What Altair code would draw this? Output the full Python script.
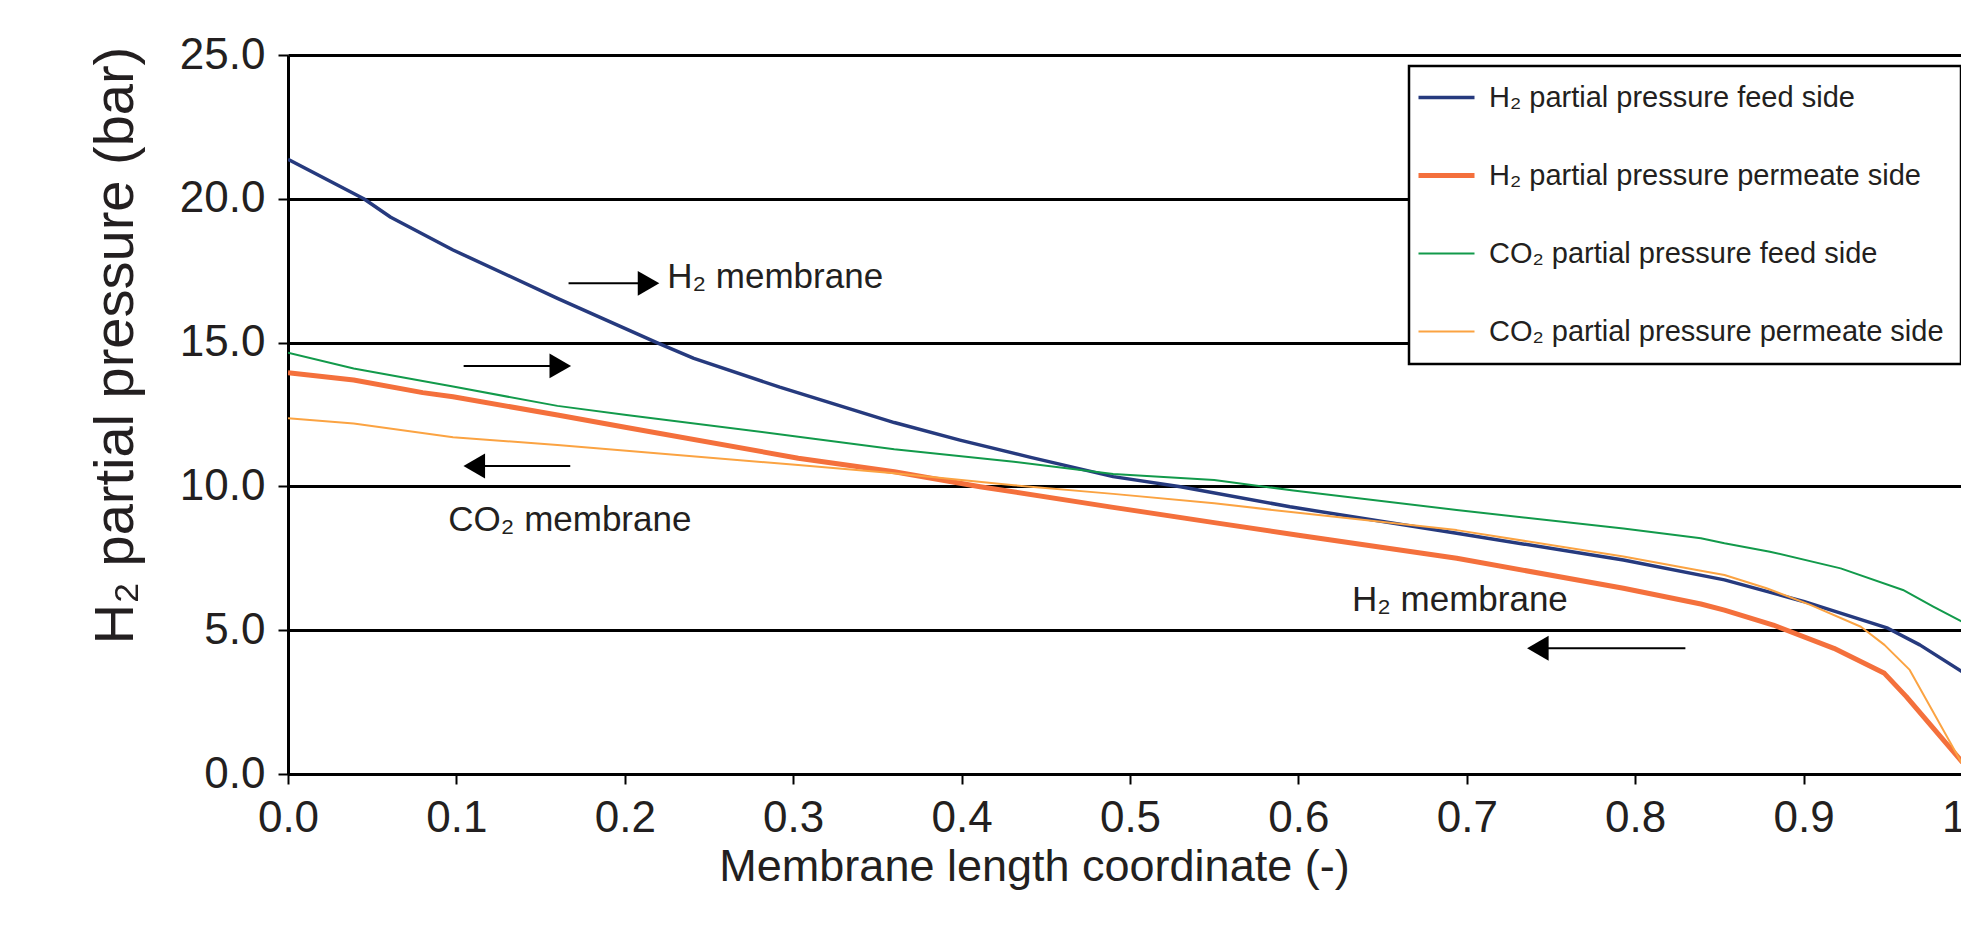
import altair as alt
import pandas as pd

FONT = "Liberation Sans, Arial, Helvetica, sans-serif"
TXT = "#231f20"

series_names = [
    "H₂ partial pressure feed side",
    "H₂ partial pressure permeate side",
    "CO₂ partial pressure feed side",
    "CO₂ partial pressure permeate side",
]
series_colors = ["#263a7e", "#f4703c", "#129a4b", "#fba342"]
series_widths = [3.5, 5.0, 2.0, 2.0]

# H2 partial pressure, feed side
x_h2_feed = [0.000, 0.045, 0.061, 0.098, 0.160, 0.219, 0.241, 0.292, 0.360, 0.399, 0.441,
             0.490, 0.530, 0.595, 0.694, 0.793, 0.853, 0.900, 0.950, 0.969, 0.994, 1.000]
y_h2_feed = [21.37, 20.00, 19.36, 18.22, 16.54, 15.00, 14.45, 13.45, 12.22, 11.61, 11.01,
             10.34, 9.99, 9.29, 8.37, 7.44, 6.75, 6.00, 5.07, 4.49, 3.56, 3.40]

# H2 partial pressure, permeate side
x_h2_perm = [0.000, 0.039, 0.080, 0.098, 0.160, 0.201, 0.303, 0.360, 0.411, 0.490, 0.550,
             0.600, 0.694, 0.793, 0.839, 0.853, 0.882, 0.918, 0.948, 0.961, 0.994, 1.000]
y_h2_perm = [13.95, 13.70, 13.26, 13.12, 12.48, 12.05, 10.98, 10.51, 9.99, 9.27, 8.74,
             8.30, 7.50, 6.46, 5.91, 5.70, 5.18, 4.37, 3.50, 2.69, 0.43, 0.30]

# CO2 partial pressure, feed side
x_co2_feed = [0.000, 0.039, 0.098, 0.160, 0.201, 0.303, 0.360, 0.431, 0.490, 0.550, 0.597,
              0.694, 0.793, 0.839, 0.853, 0.880, 0.922, 0.959, 0.977, 0.994, 1.000]
y_co2_feed = [14.65, 14.10, 13.47, 12.80, 12.48, 11.73, 11.29, 10.86, 10.43, 10.22, 9.86,
              9.18, 8.54, 8.20, 8.02, 7.73, 7.15, 6.40, 5.82, 5.30, 5.15]

# CO2 partial pressure, permeate side
x_co2_perm = [0.000, 0.039, 0.098, 0.160, 0.201, 0.303, 0.360, 0.431, 0.490, 0.550, 0.597,
              0.694, 0.793, 0.839, 0.853, 0.878, 0.904, 0.934, 0.948, 0.963, 0.994, 1.000]
y_co2_perm = [12.37, 12.19, 11.71, 11.44, 11.24, 10.74, 10.46, 10.04, 9.74, 9.41, 9.10,
              8.48, 7.56, 7.07, 6.92, 6.46, 5.88, 5.12, 4.49, 3.62, 0.37, 0.30]

# Annotation arrows (data coordinates) and labels
arrow_x_start = [0.1666, 0.1043, 0.1676, 0.8298]
arrow_x_end = [0.2141, 0.1617, 0.1106, 0.7422]
arrow_y = [17.06, 14.19, 10.71, 4.37]
arrow_head = ["triangle-right", "triangle-right", "triangle-left", "triangle-left"]

note_text = ["H₂ membrane", "CO₂ membrane", "H₂ membrane"]
note_x = [0.2252, 0.0952, 0.6318]
note_y = [17.28, 8.83, 6.05]

x_ticks = [0.0, 0.1, 0.2, 0.3, 0.4, 0.5, 0.6, 0.7, 0.8, 0.9, 1.0]
y_ticks = [0, 5, 10, 15, 20, 25]

rows = []
for name, w, xs, ys in zip(series_names, series_widths,
                           [x_h2_feed, x_h2_perm, x_co2_feed, x_co2_perm],
                           [y_h2_feed, y_h2_perm, y_co2_feed, y_co2_perm]):
    for a, b in zip(xs, ys):
        rows.append({"series": name, "w": w, "x": a, "y": b})
df = pd.DataFrame(rows)

arrows = pd.DataFrame({"x0": arrow_x_start, "x1": arrow_x_end, "y": arrow_y, "shape": arrow_head})
notes = pd.DataFrame({"label": note_text, "x": note_x, "y": note_y})

x_scale = alt.Scale(domain=[0, 1], nice=False, zero=False)
y_scale = alt.Scale(domain=[0, 25], nice=False)

sym_width_expr = (
    f"datum && datum.value == '{series_names[0]}' ? {series_widths[0]} : "
    f"datum && datum.value == '{series_names[1]}' ? {series_widths[1]} : {series_widths[2]}"
)

legend = alt.Legend(
    orient="none", legendX=1121, legendY=11, title=None,
    symbolType="stroke", symbolSize=3136, symbolOffset=6,
    symbolStrokeWidth=alt.ExprRef(expr=sym_width_expr),
    labelFontSize=29, labelFont=FONT, labelColor=TXT, labelOffset=28, labelLimit=700,
    strokeColor="black", fillColor="white", padding=17, rowPadding=48,
)

lines = alt.Chart(df).mark_line(clip=True, strokeJoin="round").encode(
    x=alt.X("x:Q", scale=x_scale, title="Membrane length coordinate (-)",
            axis=alt.Axis(values=x_ticks, format=".1f", grid=False, labelFontSize=44,
                          labelFlush=False, labelPadding=12, tickSize=10, tickWidth=2,
                          titleFontSize=45, titleX=746, titleY=106, titleAlign="center",
                          titleBaseline="alphabetic")),
    y=alt.Y("y:Q", scale=y_scale, title="H₂ partial pressure (bar)",
            axis=alt.Axis(values=y_ticks, format=".1f", grid=True, gridColor="black",
                          gridWidth=3, labelFontSize=44, labelPadding=13, tickSize=10,
                          tickWidth=2, titleFontSize=56, titleAngle=270, titleX=-173,
                          titleY=290, titleAlign="center", titleBaseline="middle")),
    color=alt.Color("series:N",
                    scale=alt.Scale(domain=series_names, range=series_colors), legend=legend),
    strokeWidth=alt.StrokeWidth("w:Q", scale=None, legend=None),
)

shafts = alt.Chart(arrows).mark_rule(color="black", strokeWidth=2).encode(
    x=alt.X("x0:Q", scale=x_scale), x2="x1:Q", y=alt.Y("y:Q", scale=y_scale)
)
heads = alt.Chart(arrows).mark_point(filled=True, color="black", opacity=1, size=620).encode(
    x=alt.X("x1:Q", scale=x_scale), y=alt.Y("y:Q", scale=y_scale),
    shape=alt.Shape("shape:N", scale=None)
)
texts = alt.Chart(notes).mark_text(align="left", baseline="middle", fontSize=35,
                                   font=FONT, color=TXT).encode(
    x=alt.X("x:Q", scale=x_scale), y=alt.Y("y:Q", scale=y_scale), text="label:N"
)

chart = alt.layer(lines, shafts, heads, texts).properties(
    width=1684, height=719,
    padding={"left": 288, "top": 55, "right": -11, "bottom": 159},
    autosize=alt.AutoSizeParams(type="none"),
    background="white",
).configure_view(stroke="transparent").configure_axis(
    labelFont=FONT, titleFont=FONT, labelColor=TXT, titleColor=TXT,
    titleFontWeight="normal", domainColor="black", domainWidth=3, tickColor="black",
).configure_legend(strokeWidth=2.5)

chart.save("out.html", embed_options={"renderer": "svg", "actions": False})
